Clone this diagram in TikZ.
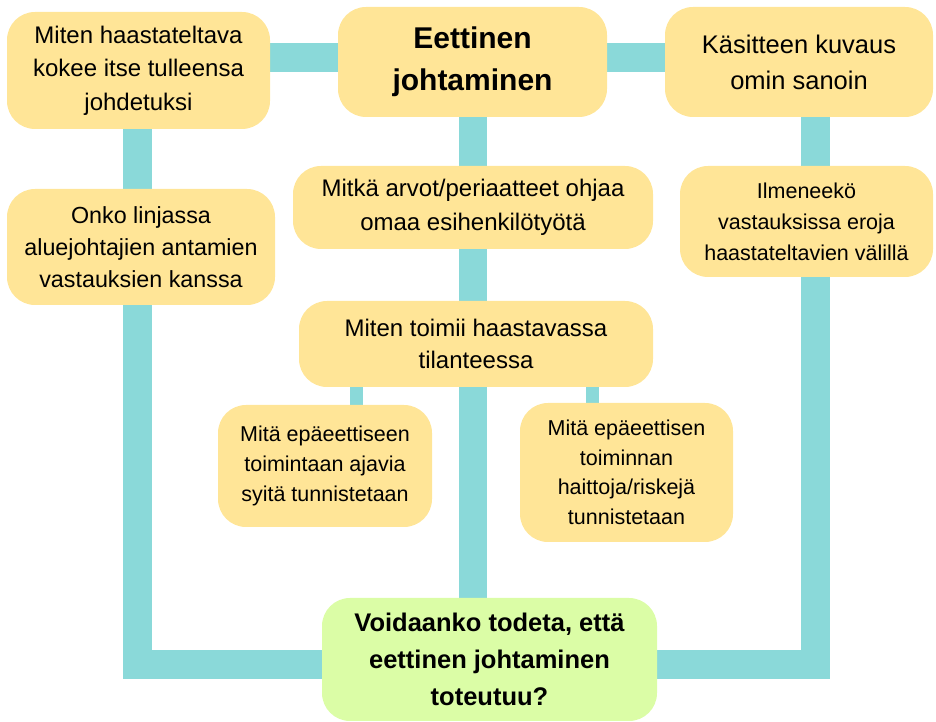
\documentclass[tikz,border=0pt]{standalone}
\usepackage{fontspec}
\setmainfont{Liberation Sans}
\usetikzlibrary{backgrounds}
\definecolor{boxyellow}{HTML}{FFE597}
\definecolor{barteal}{HTML}{8AD9D9}
\definecolor{boxgreen}{HTML}{DBFDA6}
\newcommand{\setfs}[2]{\fontsize{#1}{#2}\selectfont}
\tikzset{
  box/.style={fill=boxyellow, rounded corners=28pt, align=center, inner sep=0pt, text=black},
  finalbox/.style={box, fill=boxgreen},
  conn/.style={draw=barteal, line width=29pt, line join=miter, line cap=butt},
  thinconn/.style={draw=barteal, line width=13pt, line cap=butt},
}
\begin{document}
\begin{tikzpicture}[x=1pt,y=1pt]
\useasboundingbox (0,0) rectangle (936,722);
% boxes
\node[box, minimum width=263pt, minimum height=117pt, font=\setfs{24}{33.5}] (b1) at (138.5,651.5)
  {Miten haastateltava\\kokee itse tulleensa\\johdetuksi};
\node[box, minimum width=269pt, minimum height=110pt, font=\bfseries\setfs{30}{42}] (b2) at (472.5,660)
  {Eettinen\\johtaminen};
\node[box, minimum width=268pt, minimum height=110pt, font=\setfs{25.5}{36}] (b3) at (799,660)
  {Käsitteen kuvaus\\omin sanoin};
\node[box, minimum width=268pt, minimum height=116pt, font=\setfs{23.3}{32}] (b4) at (141,475)
  {Onko linjassa\\aluejohtajien antamien\\vastauksien kanssa};
\node[box, minimum width=360pt, minimum height=83pt, font=\setfs{24}{34}] (b5) at (473,514.5)
  {Mitkä arvot/periaatteet ohjaa\\omaa esihenkilötyötä};
\node[box, minimum width=253pt, minimum height=111pt, font=\setfs{21.5}{31}] (b6) at (806.5,500.5)
  {Ilmeneekö\\vastauksissa eroja\\haastateltavien välillä};
\node[box, minimum width=354pt, minimum height=86pt, font=\setfs{24}{32.5}] (b7) at (476,378)
  {Miten toimii haastavassa\\tilanteessa};
\node[box, minimum width=214pt, minimum height=122pt, font=\setfs{21.5}{30}] (b8) at (325,256)
  {Mitä epäeettiseen\\toimintaan ajavia\\syitä tunnistetaan};
\node[box, minimum width=213pt, minimum height=139pt, font=\setfs{21.5}{29.5}] (b9) at (626.5,249.5)
  {Mitä epäeettisen\\toiminnan\\haittoja/riskejä\\tunnistetaan};
\node[finalbox, minimum width=335pt, minimum height=123pt, font=\bfseries\setfs{25.5}{37}] (b10) at (489.5,62.5)
  {Voidaanko todeta, että\\eettinen johtaminen\\toteutuu?};
% helper coordinates
\coordinate (topy) at (0,664.5);
\coordinate (boty) at (0,57);
\coordinate (xl) at (137.5,0);
\coordinate (xc) at (473,0);
\coordinate (xr) at (815,0);
\coordinate (xsl) at (356,0);
\coordinate (xsr) at (592,0);
% connectors behind the boxes
\begin{pgfonlayer}{background}
  \draw[conn] (b1.east |- topy) -- (b3.west |- topy);
  \draw[conn] (b1.south -| xl) -- (xl |- boty) -- (xr |- boty) -- (b3.south -| xr);
  \draw[conn, line width=28pt] (b2.south -| xc) -- (b10.north -| xc);
  \draw[thinconn] (b7.south -| xsl) -- (b8.north -| xsl);
  \draw[thinconn] (b7.south -| xsr) -- (b9.north -| xsr);
\end{pgfonlayer}
\end{tikzpicture}
\end{document}
